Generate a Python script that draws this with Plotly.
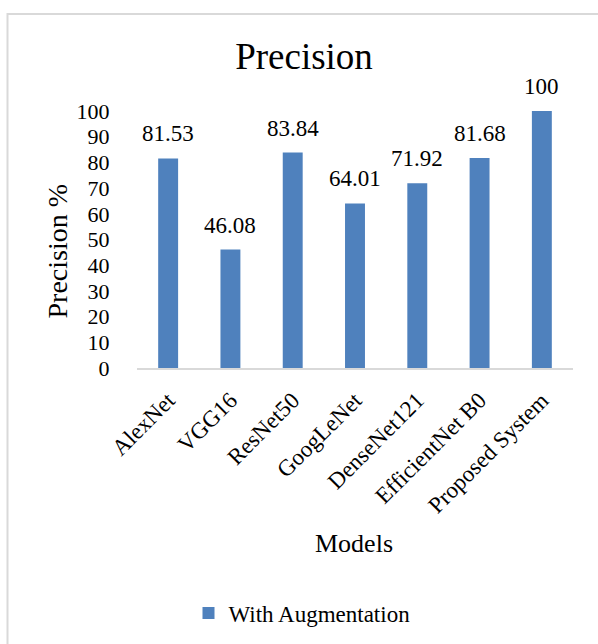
import plotly.graph_objects as go

# Precision per model (with augmentation)
models = ["AlexNet", "VGG16", "ResNet50", "GoogLeNet", "DenseNet121",
          "EfficientNet B0", "Proposed System"]
precision = [81.53, 46.08, 83.84, 64.01, 71.92, 81.68, 100]
value_labels = ["81.53", "46.08", "83.84", "64.01", "71.92", "81.68", "100"]
y_ticks = list(range(0, 101, 10))

W, H = 598, 644
ML, MR, MT, MB = 137, 25, 111, 275
PW, PH = W - ML - MR, H - MT - MB

FONT = "Liberation Serif, Times New Roman, serif"
BAR_COLOR = "#4F81BD"
GRID_GRAY = "#D9D9D9"


def px_x(px):
    return (px - ML) / PW


def px_y(py):
    return (H - MB - py) / PH


fig = go.Figure()
fig.add_trace(go.Bar(
    x=models, y=precision, name="With Augmentation",
    marker=dict(color=BAR_COLOR, line=dict(width=0)),
    showlegend=True,
))

annotations = []
for m, v, lab in zip(models, precision, value_labels):
    annotations.append(dict(
        x=m, y=v, xref="x", yref="y", text=lab, showarrow=False,
        yanchor="bottom", yshift=10,
        font=dict(family=FONT, size=23, color="#000000"),
    ))

# axis titles
annotations.append(dict(
    x=px_x(57), y=px_y(252), xref="paper", yref="paper", text="Precision %",
    textangle=-90, showarrow=False, xanchor="center", yanchor="middle",
    font=dict(family=FONT, size=28, color="#000000"),
))
annotations.append(dict(
    x=px_x(354), y=px_y(545), xref="paper", yref="paper", text="Models",
    showarrow=False, xanchor="center", yanchor="middle",
    font=dict(family=FONT, size=26, color="#000000"),
))

fig.update_layout(
    width=W, height=H,
    margin=dict(l=ML, r=MR, t=MT, b=MB, pad=0),
    paper_bgcolor="white", plot_bgcolor="white",
    title=dict(text="Precision", xref="paper", yref="container",
               x=px_x(304), y=1 - 56 / H, xanchor="center", yanchor="middle",
               font=dict(family=FONT, size=37, color="#000000")),
    bargap=0.68,
    xaxis=dict(
        tickangle=-45, showgrid=False, zeroline=False,
        showline=True, linecolor=GRID_GRAY, linewidth=1.5,
        ticks="outside", ticklen=8, tickcolor="rgba(0,0,0,0)",
        tickfont=dict(family=FONT, size=23, color="#000000"),
        fixedrange=True,
    ),
    yaxis=dict(
        range=[0, 100], tickvals=y_ticks, showgrid=False, zeroline=False,
        showline=False, ticks="outside", ticklen=22,
        tickcolor="rgba(0,0,0,0)",
        tickfont=dict(family=FONT, size=22, color="#000000"),
        fixedrange=True,
    ),
    legend=dict(
        orientation="h", x=px_x(302), y=px_y(613), xanchor="center",
        yanchor="middle", font=dict(family=FONT, size=23, color="#000000"),
        bgcolor="rgba(0,0,0,0)",
    ),
    annotations=annotations,
    shapes=[dict(
        type="rect", xref="paper", yref="paper",
        x0=px_x(7.5), x1=px_x(W + 5), y0=px_y(H + 5), y1=px_y(13.5),
        line=dict(color=GRID_GRAY, width=2), fillcolor="rgba(0,0,0,0)",
        layer="below",
    )],
)

fig.write_html("out.html", config={"displayModeBar": False})
